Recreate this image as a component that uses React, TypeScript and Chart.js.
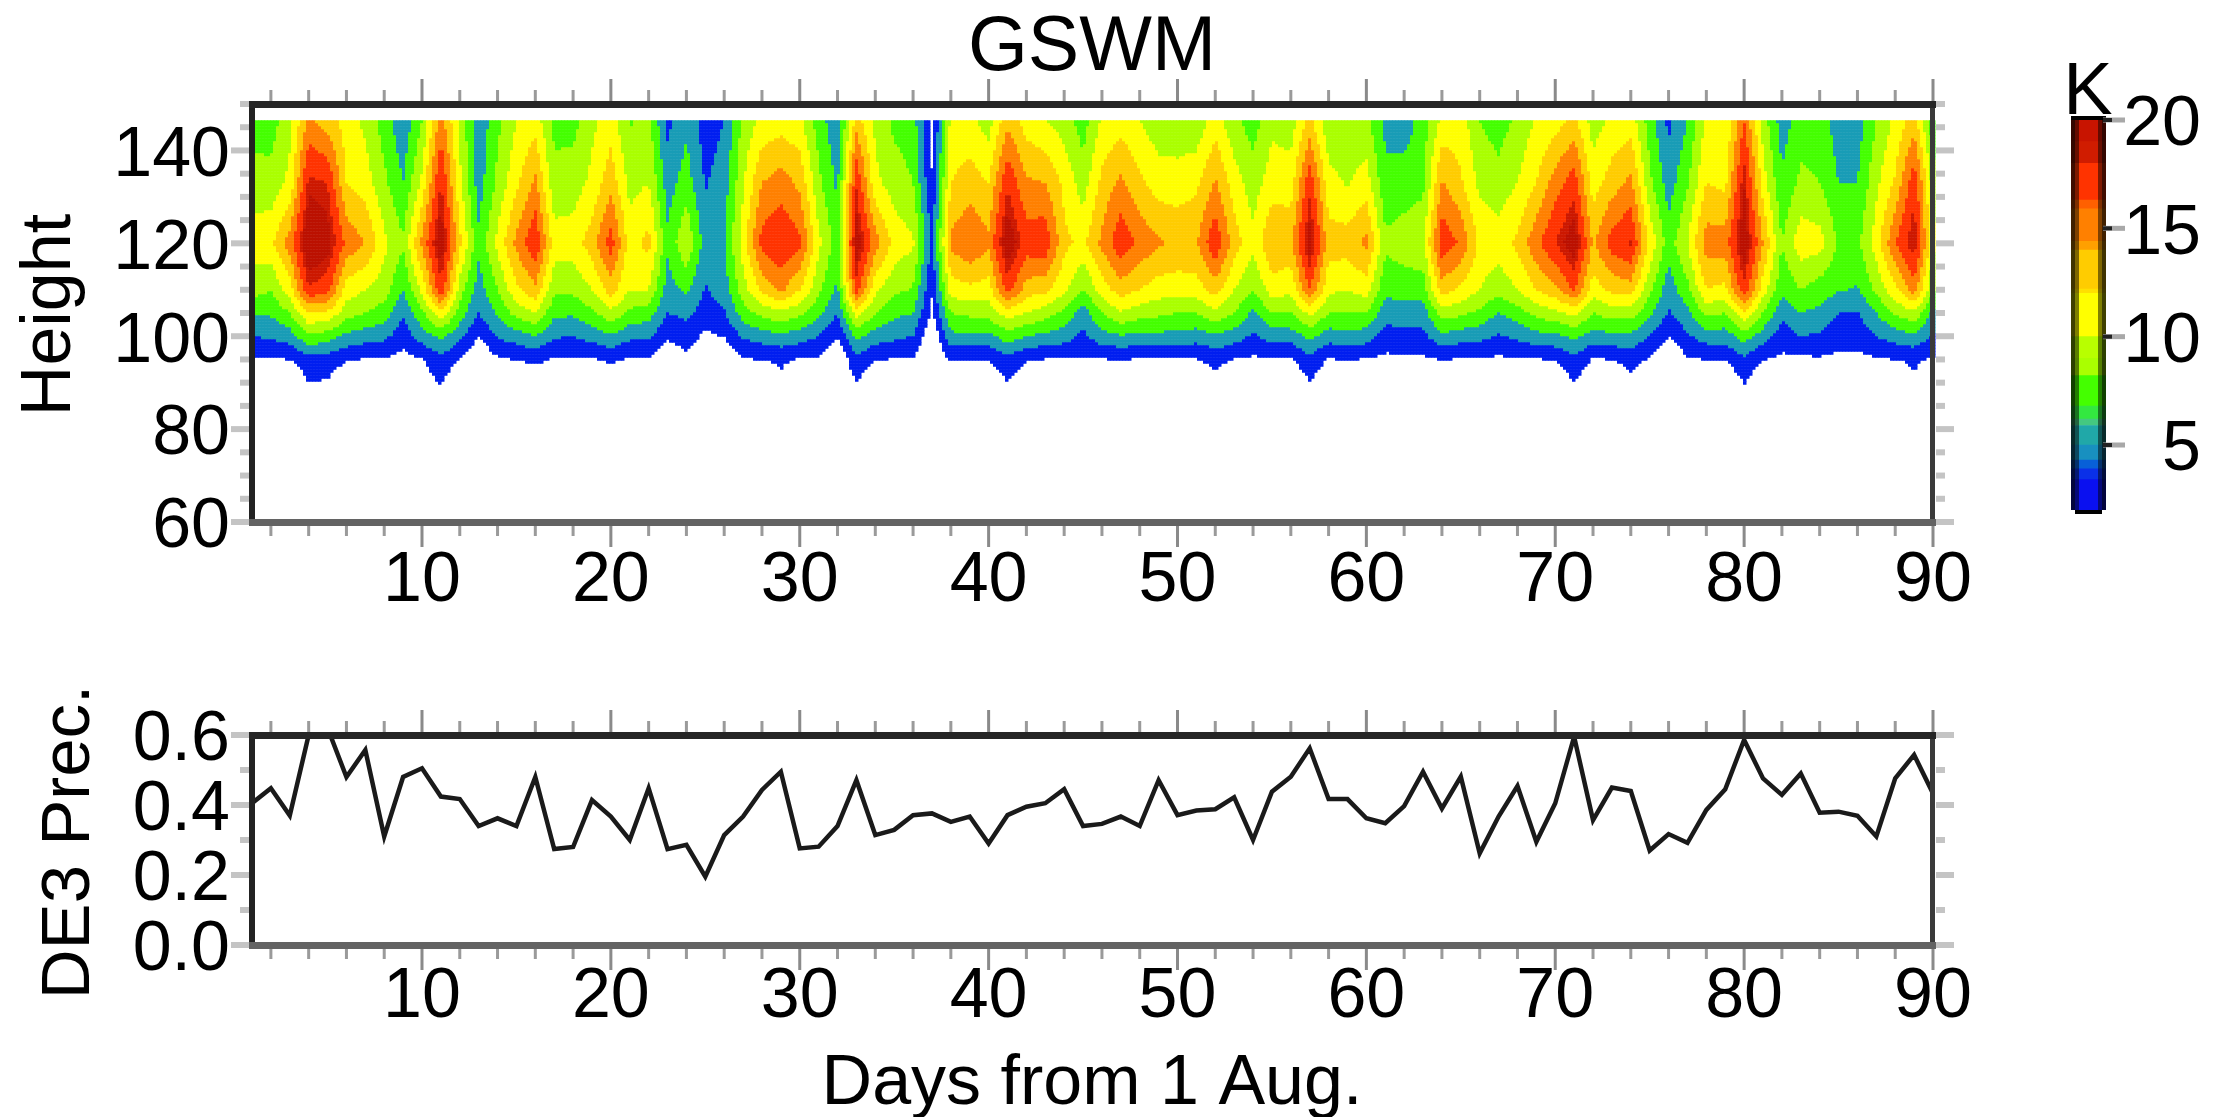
import { useEffect, useRef } from "react";
import { Chart, registerables } from "chart.js";

Chart.register(...registerables);

const titleText = "GSWM";
const xTitleText = "Days from 1 Aug.";
const topYTitle = "Height";
const lowYTitle = "DE3 Prec.";
const unitText = "K";
const fontFamily = "'Liberation Sans', Arial, sans-serif";

const days = Array.from({ length: 90 }, (_, i) => i + 1);
const dayLabels = [10, 20, 30, 40, 50, 60, 70, 80, 90];
const heightLabels = [60, 80, 100, 120, 140];
const precLabels = [0, 0.2, 0.4, 0.6];
const barLabels = [5, 10, 15, 20];

const heights = [146.5, 133, 120, 110, 105, 100, 95, 90];
// amplitude (K) per day at each of `heights`
const amplitude: number[][] = [
  [7, 9, 11, 9, 6, 4, 1.8, 0],
  [7, 8.7, 11.5, 8, 6.3, 4.3, 1.7, 0],
  [9.5, 10.5, 15, 11, 8, 5, 2, 0],
  [14.5, 18.5, 21, 17.8, 12, 7.8, 3, 2],
  [13, 18, 20, 16.8, 11.5, 7, 3, 1.8],
  [11, 12, 15.5, 11, 9, 5.5, 2.2, 0],
  [9.5, 11, 14, 10, 8, 5, 1.8, 0],
  [7, 8.5, 10.5, 9, 7, 4.5, 1.75, 0],
  [4.5, 6, 8.3, 6, 4.2, 2.9, 1.3, 0],
  [8, 10.5, 14.5, 10.5, 7.5, 5, 1.85, 1],
  [15, 18.2, 20.5, 17.5, 11.5, 6.5, 3.5, 2.1],
  [9.5, 10.5, 12.5, 9, 7, 4.5, 1.75, 0],
  [4.5, 5, 6.5, 5, 4, 1.9, 0, 0],
  [7.5, 8.5, 10.5, 8, 6.3, 4.2, 1.7, 0],
  [10, 11.5, 14.5, 11.5, 8.8, 5, 2, 0],
  [11, 14.5, 17.8, 13.5, 10, 6, 2.5, 0],
  [7.5, 8.5, 11, 8.5, 6.5, 4.2, 1.7, 0],
  [7.3, 9, 11, 8.5, 6.3, 4.1, 1.7, 0],
  [9.5, 10.5, 13, 10, 7.5, 4.8, 1.8, 0],
  [11, 13.3, 17, 13, 9.5, 5.7, 2.3, 1],
  [7.8, 9.3, 11, 10, 7.5, 4.5, 1.75, 0],
  [8.5, 10, 12.7, 10, 7, 4.3, 1.7, 0],
  [3.5, 5, 6.5, 5, 4, 2.4, 0, 0],
  [5.5, 7, 9.8, 6.5, 4.5, 3, 1.5, 0],
  [3, 3.8, 5, 3.8, 3, 1.5, 0, 0],
  [4, 5, 5.8, 5, 3.8, 2.1, 0, 0],
  [8.5, 9.7, 11, 9, 7, 4.3, 1.8, 0],
  [10.5, 14, 16.8, 12.5, 8.7, 5, 2, 0],
  [11, 15, 17.9, 14.5, 9.5, 5.5, 2.3, 1.6],
  [10.5, 13.5, 16.5, 12, 8.5, 5, 1.8, 0],
  [7, 8.5, 10.5, 8.5, 6.5, 4, 1.7, 0],
  [4.5, 5.5, 7, 5.5, 4, 2.1, 0, 0],
  [13, 17.8, 20.3, 17, 11, 6.5, 3.5, 1.9],
  [9.5, 10.5, 15, 10.5, 8, 5, 2.1, 0],
  [7.5, 9, 11.3, 8.5, 6.5, 4.5, 1.8, 0],
  [7, 8, 10.3, 7.8, 6, 4, 1.7, 0],
  [1, 2.1, 3.5, 2.1, 1.5, 0, 0, 0],
  [10.5, 12, 14.5, 11, 8, 5.5, 2.1, 0],
  [10.5, 13, 15.9, 11.5, 8.5, 5.5, 2.1, 0],
  [9, 12, 14.5, 11, 9, 5.5, 2.05, 0],
  [13.5, 17.8, 20.5, 17, 11, 7, 3.5, 2],
  [11, 14.3, 17.2, 13, 10, 6, 2.2, 0],
  [10, 14, 17.5, 12.5, 9, 5.5, 1.85, 0],
  [9, 11.5, 12.5, 10.5, 7.5, 5, 1.75, 0],
  [7, 9, 11.5, 7.8, 5, 3.5, 1.7, 0],
  [10.3, 12.6, 14.5, 11, 8, 5.3, 1.85, 0],
  [11, 14.5, 17.5, 13, 9.8, 5.8, 2, 0],
  [10, 12.5, 15.5, 12, 8.8, 5.6, 1.8, 0],
  [8.7, 11, 14.3, 11, 8.5, 5.5, 1.8, 0],
  [8.5, 11, 13.5, 11, 8, 5.3, 1.8, 0],
  [8.5, 11.5, 13.8, 11, 8, 5, 1.85, 0],
  [11, 14.3, 17.7, 13, 9.5, 5.7, 2.6, 1.2],
  [8.5, 11, 13, 10, 8, 5, 1.85, 0],
  [7, 9, 10.5, 8, 5.5, 3.7, 1.6, 0],
  [9.5, 11, 13.9, 11, 8, 5, 1.75, 0],
  [9, 11, 13.5, 10.5, 8, 5, 1.7, 0],
  [12.5, 17.5, 20, 16, 10.5, 6.5, 3.5, 1.9],
  [8.5, 10.7, 13, 10.5, 8, 5, 1.8, 0],
  [8.5, 9.8, 13, 10, 8, 5.3, 2.1, 0],
  [8.5, 11, 14.5, 11, 8, 5, 1.8, 0],
  [5.5, 6.5, 8.5, 6.5, 4.8, 3.2, 1.5, 0],
  [4.8, 7, 9, 7, 5, 3.5, 1.5, 0],
  [7, 7.5, 9.5, 7, 5, 3.5, 1.6, 0],
  [10.5, 14.2, 17.5, 13, 9, 5.5, 2, 0],
  [11, 12.3, 15.7, 11.5, 8.5, 5, 1.8, 0],
  [8, 9.5, 11.5, 10, 7.5, 4.7, 1.75, 0],
  [7, 8.8, 11, 8.7, 6, 3.8, 1.6, 0],
  [8.5, 10, 12.5, 10, 7, 4.5, 1.7, 0],
  [10.2, 12, 15.5, 12, 8.7, 5.3, 1.8, 0],
  [11, 15, 18, 13.5, 9.5, 5.5, 2.2, 0],
  [12.5, 17.2, 20.3, 16.3, 10.5, 6.5, 3.5, 2],
  [9, 11, 13.7, 11, 8, 5.2, 1.75, 0],
  [10.5, 13, 17, 12.5, 9, 5.5, 2, 0],
  [11, 14.5, 18.2, 13, 9, 5.5, 2.6, 1.5],
  [7, 8.5, 11.5, 8.5, 6.5, 4, 1.8, 0],
  [3.5, 5, 7, 4.8, 3.8, 2, 0, 0],
  [6, 7.7, 10, 7.5, 5.5, 3.7, 1.7, 0],
  [10.5, 12, 15, 12, 8.5, 5, 2, 0],
  [10, 11.5, 15, 11.5, 8, 5, 2.05, 0],
  [16, 19, 20.5, 17.5, 11.5, 7, 3.5, 2.1],
  [9, 11, 14, 11, 8, 5, 2, 0],
  [5, 6.3, 8, 6.5, 4.5, 3, 1.5, 0],
  [7, 8.5, 11.2, 8, 6, 4, 1.6, 0],
  [7, 8, 10.8, 7, 5.5, 3.7, 1.7, 0],
  [5, 6, 7.8, 6.2, 4, 2.9, 1.5, 0],
  [5, 6, 7.5, 5.8, 3.8, 2.8, 1.5, 0],
  [8, 9.5, 11, 8.5, 6, 4, 1.7, 0],
  [10.5, 12.3, 16, 11.5, 8.2, 5, 2, 0],
  [13, 17.5, 19.2, 15, 9.5, 5.5, 2.3, 1.8],
  [6.5, 9, 10.5, 8, 5.5, 3.7, 1.7, 0],
];

const precision = [
  0.405, 0.448, 0.37, 0.6, 0.62, 0.48, 0.557, 0.31, 0.48, 0.505,
  0.424, 0.417, 0.34, 0.362, 0.34, 0.48, 0.274, 0.28, 0.414, 0.367,
  0.3, 0.448, 0.274, 0.286, 0.195, 0.314, 0.367, 0.443, 0.495, 0.276,
  0.281, 0.34, 0.471, 0.314, 0.329, 0.371, 0.376, 0.352, 0.367, 0.29,
  0.371, 0.395, 0.405, 0.445, 0.34, 0.346, 0.367, 0.34, 0.471, 0.371,
  0.384, 0.388, 0.422, 0.3, 0.438, 0.481, 0.562, 0.417, 0.417, 0.362,
  0.348, 0.397, 0.495, 0.39, 0.481, 0.262, 0.367, 0.454, 0.295, 0.405,
  0.595, 0.357, 0.45, 0.44, 0.27, 0.317, 0.292, 0.386, 0.445, 0.586,
  0.476, 0.429, 0.49, 0.378, 0.381, 0.369, 0.31, 0.476, 0.543, 0.433,
];

const levels = [2, 4, 6, 8, 10, 12, 14, 16, 18, 19];
const levelColors = [
  "#001ef0", "#189cb6", "#44ff00", "#aaff00", "#ffff00",
  "#ffcc00", "#ff8000", "#ff3300", "#cc1800", "#bb1000",
];

// key of the colour bar, bottom to top
const barEdges = [2, 3.4, 3.9, 4.3, 5, 5.9, 6.2, 6.8, 8.2, 9, 10, 12, 12.2, 14, 14.4, 15.9, 16.3, 18, 19, 20];
const barColors = [
  "#0a10f0", "#0a30e8", "#0860d8", "#1890c0", "#20a8a8", "#44c880", "#33e840", "#44ff00",
  "#aaff00", "#b8ff00", "#ffff00", "#ffe000", "#ffcc00", "#ffa000", "#ff8000", "#ff6000",
  "#ff3300", "#d01c00", "#c81400",
];

function colorFor(v: number): string | null {
  for (let i = levelColors.length - 1; i >= 0; i--) {
    if (v >= levels[i]) return levelColors[i];
  }
  return null;
}

function sampleField(day: number, h: number): number {
  const fd = Math.min(Math.max(day, 1), 90) - 1;
  const d0 = Math.min(Math.floor(fd), 88);
  const td = fd - d0;
  let k = 0;
  while (k < heights.length - 2 && h < heights[k + 1]) k++;
  const tk = (heights[k] - h) / (heights[k] - heights[k + 1]);
  const a = amplitude[d0][k] * (1 - td) + amplitude[d0 + 1][k] * td;
  const b = amplitude[d0][k + 1] * (1 - td) + amplitude[d0 + 1][k + 1] * td;
  return a * (1 - tk) + b * tk;
}

const tickFont = { family: fontFamily, size: 70 };

function box(ctx: CanvasRenderingContext2D, a: any) {
  const w = 6;
  const rect = (c: string, x: number, y: number, rw: number, rh: number) => {
    ctx.fillStyle = c;
    ctx.fillRect(x, y, rw, rh);
  };
  rect("#222222", a.left - w / 2, a.top - w / 2, w, a.bottom - a.top + w);
  rect("#3a3a3a", a.right - w / 2, a.top - w / 2, w - 1, a.bottom - a.top + w);
  rect("#262626", a.left - w / 2, a.top - w / 2, a.right - a.left + w, w + 1);
  rect("#636363", a.left - w / 2, a.bottom - w / 2, a.right - a.left + w, w + 1);
}

const framePlugin = (xMinor: number, xMajor: number, yMinor: number, yMajor: number) => ({
  id: "frame",
  afterDraw(chart: any) {
    const { ctx, chartArea: a, scales } = chart;
    const sx = scales.x;
    const sy = scales.y;
    ctx.save();
    for (let d = 2; d <= 90; d += xMinor) {
      const major = d % xMajor === 0;
      const px = sx.getPixelForValue(d);
      const len = major ? 23 : 12;
      ctx.fillStyle = major ? "#8a8a8a" : "#9a9a9a";
      ctx.fillRect(px - 1.5, a.top - len - 2, 3, len);
      ctx.fillRect(px - 1.5, a.bottom + 2, 3, len);
    }
    const n = Math.round((sy.max - sy.min) / yMinor);
    for (let i = 0; i <= n; i++) {
      const v = sy.min + i * yMinor;
      const major = Math.abs(Math.round(v / yMajor) * yMajor - v) < 1e-6;
      const py = sy.getPixelForValue(v);
      const len = major ? 18 : 9;
      ctx.fillStyle = "#c4c4c4";
      ctx.fillRect(a.left - len - 3, py - 3, len, 6);
      ctx.fillRect(a.right + 3, py - 3, len, 6);
    }
    box(ctx, a);
    ctx.restore();
  },
});

const contourPlugin = {
  id: "contour",
  beforeDatasetsDraw(chart: any) {
    const { ctx, scales } = chart;
    const sx = scales.x;
    const sy = scales.y;
    const step = 3;
    const left = sx.getPixelForValue(1);
    const right = sx.getPixelForValue(90);
    const top = sy.getPixelForValue(heights[0]);
    const bottom = sy.getPixelForValue(heights[heights.length - 1]);
    ctx.save();
    for (let px = left; px < right; px += step) {
      for (let py = top; py < bottom; py += step) {
        const day = sx.getValueForPixel(px + step / 2);
        const h = sy.getValueForPixel(py + step / 2);
        const c = colorFor(sampleField(day, h));
        if (c) {
          ctx.fillStyle = c;
          ctx.fillRect(px, py, step + 0.5, step + 0.5);
        }
      }
    }
    ctx.restore();
  },
};

const barEdgePlugin = {
  id: "barEdge",
  afterDraw(chart: any) {
    const { ctx, chartArea: a, scales } = chart;
    ctx.save();
    ctx.fillStyle = "rgba(0,0,0,0.75)";
    ctx.fillRect(a.left, a.top, 4, a.bottom - a.top);
    ctx.fillRect(a.right - 4, a.top, 4, a.bottom - a.top);
    ctx.fillStyle = "rgba(0,0,0,0.5)";
    ctx.fillRect(a.left + 4, a.top, 4, a.bottom - a.top);
    ctx.fillRect(a.right - 8, a.top, 4, a.bottom - a.top);
    ctx.fillStyle = "#000";
    ctx.fillRect(a.left + 4, a.bottom, a.right - a.left - 8, 4);
    ctx.fillRect(a.left, a.top - 4, a.right - a.left, 4);
    for (const v of barLabels) {
      const py = scales.y.getPixelForValue(v);
      ctx.fillStyle = "#a8a8a8";
      ctx.fillRect(a.right - 3, py - 2.5, 22, 5);
      ctx.fillStyle = "#222";
      ctx.fillRect(a.right - 3, py - 2, 9, 4);
    }
    ctx.restore();
  },
};

const fixedText = (text: string, x: number, y: number, size: number, rot = 0) => ({
  text,
  x,
  y,
  size,
  rot,
});

const textPlugin = (items: ReturnType<typeof fixedText>[]) => ({
  id: "texts",
  afterDraw(chart: any) {
    const { ctx } = chart;
    ctx.save();
    ctx.fillStyle = "#000";
    ctx.textAlign = "center";
    ctx.textBaseline = "middle";
    for (const t of items) {
      ctx.save();
      ctx.translate(t.x, t.y);
      ctx.rotate(t.rot);
      ctx.font = `${t.size}px ${fontFamily}`;
      ctx.fillText(t.text, 0, 0);
      ctx.restore();
    }
    ctx.restore();
  },
});

function dayScale(padding: number) {
  return {
    type: "linear",
    min: 1,
    max: 90,
    grid: { display: false, drawTicks: false },
    border: { display: false },
    afterBuildTicks: (s: any) => {
      s.ticks = dayLabels.map((value) => ({ value }));
    },
    ticks: {
      autoSkip: false,
      maxRotation: 0,
      padding,
      color: "#000",
      font: tickFont,
      callback: (v: number) => String(v),
    },
  };
}

function yScale(min: number, max: number, labels: number[], digits: number, width: number) {
  return {
    type: "linear",
    min,
    max,
    grid: { display: false, drawTicks: false },
    border: { display: false },
    afterBuildTicks: (s: any) => {
      s.ticks = labels.map((value) => ({ value }));
    },
    afterFit: (s: any) => {
      s.width = width;
    },
    ticks: {
      autoSkip: false,
      padding: 22,
      labelOffset: 6,
      color: "#000",
      font: tickFont,
      callback: (v: number) => v.toFixed(digits),
    },
  };
}

export default function App() {
  const topRef = useRef<HTMLCanvasElement>(null);
  const lowRef = useRef<HTMLCanvasElement>(null);
  const barRef = useRef<HTMLCanvasElement>(null);

  useEffect(() => {
    const base = { responsive: false, animation: false, maintainAspectRatio: false };
    const noPlugins = { legend: { display: false }, title: { display: false }, tooltip: { enabled: false } };

    const top = new Chart(topRef.current!, {
      type: "line",
      data: { datasets: [{ data: [], showLine: false }] },
      options: {
        ...base,
        layout: { padding: { left: 0, top: 104, right: 292, bottom: 0 } },
        plugins: noPlugins,
        scales: {
          x: {
            ...dayScale(18),
            afterFit: (s: any) => {
              s.height = 640 - 522;
            },
          },
          y: yScale(60, 150, heightLabels, 0, 252),
        },
      } as any,
      plugins: [
        contourPlugin,
        framePlugin(2, 10, 5, 20),
        textPlugin([
          fixedText(titleText, 1092, 49, 77),
          fixedText(topYTitle, 51, 315, 70, -Math.PI / 2),
        ]),
      ] as any,
    });

    const low = new Chart(lowRef.current!, {
      type: "line",
      data: {
        datasets: [
          {
            data: days.map((d, i) => ({ x: d, y: precision[i] })),
            borderColor: "#1a1a1a",
            borderWidth: 4.5,
            pointRadius: 0,
            tension: 0,
          },
        ],
      },
      options: {
        ...base,
        layout: { padding: { left: 0, top: 295, right: 292, bottom: 0 } },
        plugins: noPlugins,
        scales: {
          x: {
            ...dayScale(11),
            afterFit: (s: any) => {
              s.height = 172;
            },
          },
          y: yScale(0, 0.6, precLabels, 1, 252),
        },
      } as any,
      plugins: [
        framePlugin(2, 10, 0.1, 0.2),
        textPlugin([
          fixedText(lowYTitle, 70, 402, 69, -Math.PI / 2),
          fixedText(xTitleText, 1092, 645, 70),
        ]),
      ] as any,
    });

    const bar = new Chart(barRef.current!, {
      type: "bar",
      data: {
        labels: [""],
        datasets: barColors.map((c, i) => ({
          data: [[barEdges[i], barEdges[i + 1]]],
          backgroundColor: c,
          borderWidth: 0,
          barPercentage: 1,
          categoryPercentage: 1,
          grouped: false,
        })),
      },
      options: {
        ...base,
        layout: { padding: { left: 71, top: 120, right: 0, bottom: 0 } },
        plugins: noPlugins,
        scales: {
          x: {
            display: true,
            grid: { display: false, drawTicks: false },
            border: { display: false },
            ticks: { display: false },
            afterFit: (s: any) => {
              s.height = 130;
            },
          },
          y: {
            type: "linear",
            position: "right",
            min: 2,
            max: 20,
            grid: { display: false, drawTicks: false },
            border: { display: false },
            afterBuildTicks: (s: any) => {
              s.ticks = barLabels.map((value) => ({ value }));
            },
            afterFit: (s: any) => {
              s.width = 95;
            },
            ticks: {
              autoSkip: false,
              labelOffset: 6,
              color: "#000",
              crossAlign: "far",
              font: tickFont,
              callback: (v: number) => String(v),
            },
          },
        },
      } as any,
      plugins: [barEdgePlugin, textPlugin([fixedText(unitText, 88, 94, 74)])] as any,
    });

    return () => {
      top.destroy();
      low.destroy();
      bar.destroy();
    };
  }, []);

  const abs = (left: number, top: number) =>
    ({ position: "absolute", left, top, display: "block" }) as const;

  return (
    <div style={{ position: "absolute", left: 0, top: 0, width: 2225, height: 1117, background: "#fff", overflow: "hidden" }}>
      <canvas ref={topRef} width={2225} height={640} style={abs(0, 0)} />
      <canvas ref={lowRef} width={2225} height={677} style={abs(0, 440)} />
      <canvas ref={barRef} width={201} height={640} style={abs(2000, 0)} />
    </div>
  );
}
